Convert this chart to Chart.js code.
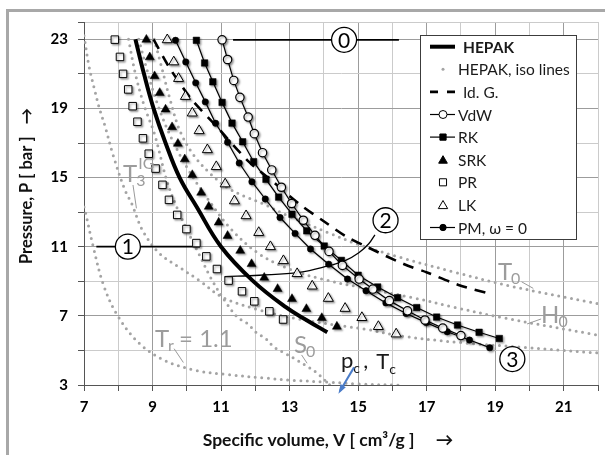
<!DOCTYPE html>
<html lang="en">
<head>
<meta charset="UTF-8" />
<title>Helium P-V diagram, equations of state</title>
<script src="https://cdn.jsdelivr.net/npm/chart.js"></script>
<style>
  html, body { margin: 0; padding: 0; background: #fff; }
  canvas { display: block; }
</style>
</head>
<body>
<canvas id="chart" width="605" height="455"></canvas>
<script>
// ---- axes ----
var xTicks = [7, 8, 9, 10, 11, 12, 13, 14, 15, 16, 17, 18, 19, 20, 21, 22];
var xLabels = [7, 9, 11, 13, 15, 17, 19, 21];
var yTicks = [3, 5, 7, 9, 11, 13, 15, 17, 19, 21, 23, 24];
var yLabels = [3, 7, 11, 15, 19, 23];

// ---- HEPAK (reference) ----
var hepakV = [8.50, 8.75, 9.03, 9.38, 9.79, 10.29, 11.00, 11.92, 12.89, 13.50, 14.10];
var hepakP = [23.0, 21.0, 19.0, 17.0, 15.0, 13.3, 11.0, 9.04, 7.50, 6.75, 6.05];

// ---- ideal gas ----
var idgV = [9.03, 9.45, 9.85, 10.18, 10.86, 11.80, 12.49, 13.30, 14.05, 14.62, 15.30, 16.33, 17.01, 17.93, 18.80];
var idgP = [23.0, 21.5, 20.3, 19.42, 17.98, 15.94, 14.80, 13.45, 12.40, 11.63, 10.95, 10.00, 9.51, 8.79, 8.30];

// ---- equations of state ----
var vdwV = [11.03, 11.19, 11.37, 11.55, 11.79, 11.97, 12.21, 12.48, 12.76, 13.06, 13.40, 13.74, 14.15, 14.54, 15.03, 15.43, 15.91, 16.44, 16.95, 17.47, 18.00];
var vdwP = [22.97, 21.83, 20.62, 19.64, 18.50, 17.54, 16.44, 15.44, 14.44, 13.50, 12.53, 11.66, 10.73, 9.92, 9.13, 8.55, 7.88, 7.29, 6.76, 6.29, 5.86];

var rkV = [10.28, 10.52, 10.76, 11.03, 11.32, 11.63, 11.95, 12.31, 12.68, 13.07, 13.50, 14.01, 14.51, 15.00, 15.57, 16.15, 16.71, 17.29, 17.90, 18.53, 19.12];
var rkP = [22.94, 21.63, 20.54, 19.35, 18.15, 17.07, 15.92, 14.90, 13.87, 12.88, 11.92, 11.04, 10.21, 9.35, 8.67, 8.05, 7.48, 6.93, 6.47, 6.05, 5.69];

var srkV = [8.82, 8.92, 9.06, 9.21, 9.38, 9.57, 9.74, 9.94, 10.16, 10.42, 10.64, 10.93, 11.19, 11.56, 11.89, 12.26, 12.65, 13.07, 13.49, 13.94, 14.38];
var srkP = [22.98, 21.96, 20.87, 19.90, 18.94, 17.92, 16.96, 16.06, 15.15, 14.13, 13.32, 12.40, 11.63, 10.77, 10.00, 9.21, 8.56, 7.98, 7.40, 6.88, 6.38];

var prV = [7.90, 8.05, 8.14, 8.29, 8.42, 8.56, 8.72, 8.89, 9.09, 9.29, 9.48, 9.72, 9.99, 10.28, 10.57, 10.88, 11.22, 11.61, 11.97, 12.41, 12.81];
var prP = [22.98, 21.98, 21.00, 20.10, 19.13, 18.23, 17.27, 16.38, 15.52, 14.58, 13.71, 12.84, 12.02, 11.21, 10.44, 9.71, 9.04, 8.42, 7.84, 7.26, 6.79];

var lkV = [9.43, 9.62, 9.76, 9.96, 10.16, 10.36, 10.60, 10.86, 11.12, 11.39, 11.73, 12.10, 12.44, 12.82, 13.22, 13.66, 14.13, 14.62, 15.11, 15.59, 16.11];
var lkP = [22.97, 21.69, 20.73, 19.69, 18.73, 17.71, 16.61, 15.63, 14.63, 13.65, 12.79, 11.82, 11.00, 10.19, 9.44, 8.72, 8.01, 7.43, 6.90, 6.38, 5.95];

var pmV = [9.67, 9.97, 10.26, 10.54, 10.84, 11.19, 11.53, 11.90, 12.29, 12.72, 13.16, 13.61, 14.14, 14.69, 15.23, 15.81, 16.40, 16.99, 17.60, 18.25, 18.84];
var pmP = [22.94, 21.69, 20.48, 19.38, 18.14, 17.04, 15.84, 14.76, 13.76, 12.69, 11.77, 10.87, 9.99, 9.13, 8.45, 7.75, 7.14, 6.61, 6.08, 5.60, 5.16];

// ---- HEPAK iso lines ----
var t3igV = [7.00, 7.15, 7.32, 7.45, 7.61, 7.85, 8.19, 8.39, 8.72, 9.21, 9.79, 10.37, 11.05, 12.10, 13.30, 14.60, 15.30, 16.20, 18.00, 19.90, 21.80, 22.00];
var t3igP = [23.2, 21.4, 20.0, 19.0, 18.0, 16.3, 14.3, 13.5, 11.9, 10.6, 9.8, 9.04, 8.07, 7.35, 6.80, 6.40, 6.20, 5.85, 5.45, 5.17, 4.88, 4.86];

var tr11V = [7.00, 7.03, 7.27, 7.56, 7.95, 8.58, 9.35, 10.28, 11.15, 12.30, 13.10, 14.10, 15.00, 16.30];
var tr11P = [13.3, 13.1, 11.0, 8.84, 7.11, 5.47, 4.42, 3.84, 3.61, 3.40, 3.27, 3.17, 3.06, 2.98];

var s0V = [8.30, 8.50, 8.75, 9.06, 9.42, 9.69, 10.00, 10.35, 10.70, 11.10, 11.48, 11.78, 12.02, 12.31, 12.55, 12.89, 13.23, 13.47, 13.77, 14.03, 14.20];
var s0P = [23.0, 21.0, 19.2, 17.5, 14.8, 13.37, 12.0, 10.6, 9.2, 7.9, 6.92, 6.54, 6.05, 5.67, 5.19, 4.81, 4.42, 4.13, 3.74, 3.27, 2.95];

var t0V = [9.05, 9.25, 9.50, 9.80, 10.20, 10.70, 11.20, 11.70, 12.20, 13.00, 14.20, 15.05, 16.20, 17.83, 19.50, 21.80, 22.00];
var t0P = [23.0, 21.5, 19.6, 17.7, 16.3, 15.2, 14.4, 13.9, 13.5, 12.75, 11.75, 11.1, 10.4, 9.52, 8.70, 7.78, 7.70];

var h0V = [8.60, 8.80, 9.10, 9.50, 10.00, 10.60, 11.30, 12.10, 13.00, 14.00, 15.20, 16.60, 17.80, 19.20, 21.90, 22.00];
var h0P = [23.0, 21.5, 19.5, 17.5, 15.6, 13.8, 12.0, 10.6, 9.7, 9.1, 8.6, 8.05, 7.5, 6.9, 5.92, 5.88];

// critical point of helium
var critV = [14.30];
var critP = [2.25];

// ---- annotations (data coordinates) ----
var line0V = [11.35, 16.19], line0P = [22.97, 22.97];
var line1V = [7.36, 10.38], line1P = [11.0, 11.0];
var arc2V = [11.10, 12.12, 13.28, 14.15, 14.62, 15.02, 15.31, 15.49];
var arc2P = [9.27, 9.35, 9.51, 9.90, 10.19, 10.65, 11.17, 11.69];
var circleTexts = ["0", "1", "2", "3"];
var circleV = [14.59, 8.28, 15.80, 19.50];
var circleP = [22.97, 11.0, 12.53, 4.50];

function pts(v, p) {
  return v.map(function (x, i) { return { x: x, y: p[i] }; });
}

var dotGray = "#a4a4a4";
function isoLine(v, p) {
  return {
    data: pts(v, p), showLine: true, pointRadius: 0, borderColor: dotGray,
    borderWidth: 3, borderDash: [0, 6.5], borderCapStyle: "round", tension: 0.35
  };
}
function annoLine(v, p, w, tension) {
  return {
    data: pts(v, p), showLine: true, pointRadius: 0, borderColor: "#000",
    borderWidth: w, tension: tension || 0
  };
}

var datasets = [
  { label: "VdW", data: pts(vdwV, vdwP), showLine: true, borderColor: "#000", borderWidth: 1.2,
    pointStyle: "circle", pointRadius: 4.2, pointBackgroundColor: "#fff", pointBorderColor: "#000",
    pointBorderWidth: 1.2, shadow: true },
  { label: "RK", data: pts(rkV, rkP), showLine: true, borderColor: "#000", borderWidth: 1.2,
    pointStyle: "rect", pointRadius: 4.6, pointBackgroundColor: "#000", pointBorderColor: "#000",
    pointBorderWidth: 0.5, shadow: true },
  { label: "PM, ω = 0", data: pts(pmV, pmP), showLine: true, borderColor: "#000", borderWidth: 1.2,
    pointStyle: "circle", pointRadius: 3.2, pointBackgroundColor: "#000", pointBorderColor: "#000",
    pointBorderWidth: 0.5, shadow: true },
  { label: "SRK", data: pts(srkV, srkP), showLine: false, pointStyle: "triangle", pointRadius: 5.2,
    pointBackgroundColor: "#000", pointBorderColor: "#000", pointBorderWidth: 0.5, shadow: true },
  { label: "PR", data: pts(prV, prP), showLine: false, pointStyle: "rect", pointRadius: 5.3,
    pointBackgroundColor: "#fff", pointBorderColor: "#000", pointBorderWidth: 1, shadow: true },
  { label: "LK", data: pts(lkV, lkP), showLine: false, pointStyle: "triangle", pointRadius: 5.8,
    pointBackgroundColor: "#fff", pointBorderColor: "#000", pointBorderWidth: 1, shadow: true },
  { label: "HEPAK", data: pts(hepakV, hepakP), showLine: true, pointRadius: 0, borderColor: "#000",
    borderWidth: 4, tension: 0.4 },
  { label: "Id. G.", data: pts(idgV, idgP), showLine: true, pointRadius: 0, borderColor: "#000",
    borderWidth: 2.6, borderDash: [11, 8], tension: 0.3 },
  annoLine(line0V, line0P, 1.8),
  annoLine(line1V, line1P, 1.8),
  annoLine(arc2V, arc2P, 1.3, 0.4),
  isoLine(t3igV, t3igP),
  isoLine(tr11V, tr11P),
  isoLine(s0V, s0P),
  isoLine(t0V, t0P),
  isoLine(h0V, h0P),
  { label: "crit", data: pts(critV, critP), showLine: false, pointRadius: 3.3,
    pointBackgroundColor: "#4a7cc9", pointBorderColor: "#4a7cc9", clip: false }
];

// gray text labels on iso lines: [main, sub, sup, V, P]
var isoLabels = [
  ["T", "3", "IG", 8.14, 14.74],
  ["T", "r", "", 9.07, 5.20],
  ["S", "0", "", 13.13, 4.85],
  ["T", "0", "", 19.08, 9.07],
  ["H", "0", "", 20.34, 6.59]
];
var trRest = " = 1.1";
// leader lines [V1, P1, V2, P2]
var leaders = [
  [8.43, 14.57, 8.53, 13.22],
  [9.63, 5.10, 9.90, 4.30],
  [13.35, 4.74, 13.51, 4.26],
  [19.77, 8.97, 20.11, 8.59],
  [19.93, 6.53, 20.34, 6.82]
];

var legendNames = ["HEPAK", "HEPAK, iso lines", "Id. G.", "VdW", "RK", "SRK", "PR", "LK", "PM, ω = 0"];

function marker(c, style, x, y, r, fill) {
  c.beginPath();
  if (style === "circle") {
    c.arc(x, y, r, 0, Math.PI * 2);
  } else if (style === "rect") {
    var s = r / Math.SQRT2;
    c.rect(x - s, y - s, 2 * s, 2 * s);
  } else if (style === "triangle") {
    c.moveTo(x, y - r);
    c.lineTo(x + r * 0.866, y + r * 0.5);
    c.lineTo(x - r * 0.866, y + r * 0.5);
    c.closePath();
  }
  c.fillStyle = fill;
  c.fill();
  c.strokeStyle = "#000";
  c.lineWidth = 1;
  c.stroke();
}

var shadowPlugin = {
  id: "shadow",
  beforeDatasetDraw: function (chart, args) {
    var ds = chart.data.datasets[args.index];
    chart.ctx.save();
    if (ds.shadow) {
      chart.ctx.shadowColor = "rgba(0,0,0,0.35)";
      chart.ctx.shadowOffsetX = 1.5;
      chart.ctx.shadowOffsetY = 1.5;
      chart.ctx.shadowBlur = 2;
    }
  },
  afterDatasetDraw: function (chart) {
    chart.ctx.restore();
  }
};

var overlay = {
  id: "overlay",
  beforeDraw: function (chart) {
    var c = chart.ctx;
    c.save();
    c.fillStyle = "#fff";
    c.fillRect(0, 0, chart.width, chart.height);
    c.restore();
  },
  afterDatasetsDraw: function (chart) {
    var c = chart.ctx, xs = chart.scales.x, ys = chart.scales.y;
    function px(v) { return xs.getPixelForValue(v); }
    function py(p) { return ys.getPixelForValue(p); }
    c.save();

    // leader lines
    c.strokeStyle = "#9a9a9a";
    c.lineWidth = 1;
    leaders.forEach(function (l) {
      c.beginPath();
      c.moveTo(px(l[0]), py(l[1]));
      c.lineTo(px(l[2]), py(l[3]));
      c.stroke();
    });

    // gray labels with sub / superscripts
    c.fillStyle = "#9c9c9c";
    c.textBaseline = "alphabetic";
    c.textAlign = "left";
    isoLabels.forEach(function (lb, i) {
      var x = px(lb[3]), y = py(lb[4]);
      c.font = "24px Lato";
      c.fillText(lb[0], x, y);
      var w = c.measureText(lb[0]).width;
      c.font = "16px Lato";
      c.fillText(lb[1], x + w - 1, y + 4);
      if (lb[2]) c.fillText(lb[2], x + w + 1, y - 13);
      if (i === 1) {
        var ws = c.measureText(lb[1]).width;
        c.font = "24px Lato";
        c.fillText(trRest, x + w + ws - 2, y);
      }
    });

    // critical point label
    var cx = px(14.50), cy = py(3.98);
    c.fillStyle = "#1a1a1a";
    c.font = "22px Lato";
    c.fillText("p", cx, cy);
    var wp = c.measureText("p").width;
    c.font = "14px Lato";
    c.fillText("c", cx + wp, cy + 5);
    c.font = "22px Lato";
    c.fillText(",", cx + wp + 10, cy);
    c.fillText("T", cx + wp + 23, cy + 1);
    var wt = c.measureText("T").width;
    c.font = "14px Lato";
    c.fillText("c", cx + wp + 23 + wt, cy + 6);

    // blue arrow to the critical point
    var ax1 = px(14.88), ay1 = py(4.02), ax2 = px(14.47), ay2 = py(2.65);
    c.strokeStyle = "#4a7cc9";
    c.fillStyle = "#4a7cc9";
    c.lineWidth = 2;
    c.beginPath();
    c.moveTo(ax1, ay1);
    c.lineTo(ax2, ay2);
    c.stroke();
    var ang = Math.atan2(ay2 - ay1, ax2 - ax1);
    c.beginPath();
    c.moveTo(ax2 + 3 * Math.cos(ang), ay2 + 3 * Math.sin(ang));
    c.lineTo(ax2 - 7 * Math.cos(ang - 0.45), ay2 - 7 * Math.sin(ang - 0.45));
    c.lineTo(ax2 - 7 * Math.cos(ang + 0.45), ay2 - 7 * Math.sin(ang + 0.45));
    c.closePath();
    c.fill();

    // numbered circles
    c.textAlign = "center";
    c.textBaseline = "middle";
    circleTexts.forEach(function (t, i) {
      var x = px(circleV[i]), y = py(circleP[i]);
      c.beginPath();
      c.arc(x, y, 12.5, 0, Math.PI * 2);
      c.fillStyle = "#fff";
      c.fill();
      c.strokeStyle = "#000";
      c.lineWidth = 1.3;
      c.stroke();
      c.fillStyle = "#000";
      c.font = "21px Lato";
      c.fillText(t, x, y + 1);
    });
    c.restore();
  },
  afterDraw: function (chart) {
    var c = chart.ctx;
    c.save();

    // legend box
    var lx = 420, ly = 35, lw = 156, lh = 204;
    c.fillStyle = "#fff";
    c.fillRect(lx, ly, lw, lh);
    c.strokeStyle = "#3c3c3c";
    c.lineWidth = 1;
    c.strokeRect(lx + 0.5, ly + 0.5, lw, lh);
    c.textAlign = "left";
    c.textBaseline = "middle";
    legendNames.forEach(function (name, i) {
      var y = 46.7 + i * 22.6, sx = 443;
      c.fillStyle = "#1a1a1a";
      c.strokeStyle = "#000";
      if (i === 0) {
        c.lineWidth = 4;
        c.beginPath(); c.moveTo(430, y); c.lineTo(455, y); c.stroke();
      } else if (i === 1) {
        c.fillStyle = dotGray;
        c.beginPath(); c.arc(sx, y, 1.5, 0, Math.PI * 2); c.fill();
      } else if (i === 2) {
        c.lineWidth = 2.6;
        c.beginPath(); c.moveTo(430, y); c.lineTo(438, y); c.moveTo(447, y); c.lineTo(455, y); c.stroke();
      } else {
        if (i === 3 || i === 4 || i === 8) {
          c.lineWidth = 1.2;
          c.beginPath(); c.moveTo(430, y); c.lineTo(455, y); c.stroke();
        }
        if (i === 3) marker(c, "circle", sx, y, 4, "#fff");
        if (i === 4) marker(c, "rect", sx, y, 4.4, "#000");
        if (i === 5) marker(c, "triangle", sx, y + 1, 5, "#000");
        if (i === 6) marker(c, "rect", sx, y, 5, "#fff");
        if (i === 7) marker(c, "triangle", sx, y + 1, 5.4, "#fff");
        if (i === 8) marker(c, "circle", sx, y, 3.2, "#000");
      }
      c.fillStyle = "#1a1a1a";
      c.font = (i === 0 ? "bold " : "") + "15.5px Lato";
      var tx = (i === 0 || i === 2) ? 463 : 458;
      c.fillText(name, tx, y + 1);
    });

    // axis titles
    c.fillStyle = "#111";
    c.textAlign = "center";
    c.textBaseline = "middle";
    c.font = "bold 17.5px Lato";
    c.fillText("Specific volume, V [ cm\u00b3/g ]     \u2192", 328, 440);
    c.font = "bold 16.5px Lato";
    c.translate(27, 186);
    c.rotate(-Math.PI / 2);
    c.fillText("Pressure, P [ bar ]   \u2192", 0, 0);
    c.setTransform(1, 0, 0, 1, 0, 0);

    // gray frame on top and left
    c.fillStyle = "#a8a8a8";
    c.fillRect(6, 9, chart.width - 6, 3);
    c.fillRect(6, 9, 3, chart.height - 9);
    c.restore();
  }
};

function gridColor(labels) {
  return function (ctx) {
    var v = ctx.tick ? ctx.tick.value : null;
    return labels.indexOf(v) >= 0 ? "#9c9c9c" : "#cbcbcb";
  };
}

var chart = new Chart(document.getElementById("chart"), {
  type: "scatter",
  data: { datasets: datasets },
  options: {
    responsive: false,
    animation: false,
    devicePixelRatio: 1,
    layout: { padding: { top: 22, right: 7, left: 0, bottom: 0 } },
    plugins: { legend: { display: false }, tooltip: { enabled: false } },
    scales: {
      x: {
        type: "linear", min: 7, max: 22,
        afterBuildTicks: function (s) { s.ticks = xTicks.map(function (v) { return { value: v }; }); },
        afterFit: function (s) { s.height = 70; },
        ticks: {
          callback: function (v) { return xLabels.indexOf(v) >= 0 ? String(v) : ""; },
          font: { family: "Lato", size: 15, weight: "bold" }, color: "#000",
          padding: 7, maxRotation: 0, autoSkip: false
        },
        grid: { color: gridColor(xLabels), tickLength: 6, tickColor: "#555" },
        border: { color: "#555", width: 1 }
      },
      y: {
        type: "linear", min: 3, max: 24,
        afterBuildTicks: function (s) { s.ticks = yTicks.map(function (v) { return { value: v }; }); },
        afterFit: function (s) { s.width = 84; },
        ticks: {
          callback: function (v) { return yLabels.indexOf(v) >= 0 ? String(v) : ""; },
          font: { family: "Lato", size: 15, weight: "bold" }, color: "#000",
          padding: 10, autoSkip: false
        },
        grid: { color: gridColor(yLabels), tickLength: 6, tickColor: "#555" },
        border: { color: "#555", width: 1 }
      }
    }
  },
  plugins: [overlay, shadowPlugin]
});
</script>
</body>
</html>
